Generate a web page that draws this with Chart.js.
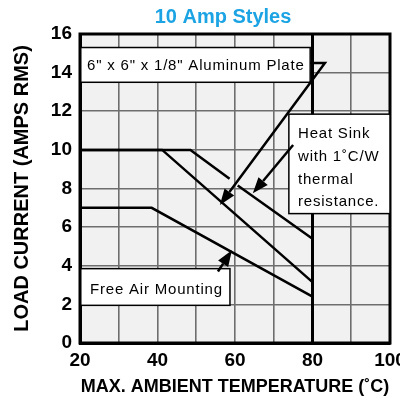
<!DOCTYPE html>
<html>
<head>
<meta charset="utf-8">
<script src="https://cdn.jsdelivr.net/npm/chart.js@4.4.0/dist/chart.umd.min.js"></script>
<style>
  html, body { margin: 0; padding: 0; background: #fff; }
  #wrap { width: 400px; height: 400px; }
</style>
</head>
<body>
<div id="wrap"><canvas id="myChart" width="400" height="400"></canvas></div>
<script>
// curve data (temperature in C, current in A rms)
var heatSinkX = [20, 48.5, 58.6, null, 60.7, 80];
var heatSinkY = [10, 10, 8.5, null, 8.15, 5.4];
var plateX = [20, 41.2, 80];
var plateY = [10, 10, 3.15];
var freeAirX = [20, 38.5, 80];
var freeAirY = [7, 7, 2.4];
var limitX = [80, 80];
var limitY = [0, 16];

var xTicks = [20, 40, 60, 80, 100];
var yTicks = [0, 2, 4, 6, 8, 10, 12, 14, 16];

// callout labels and arrows (data coordinates)
var plateLabel = ['6" x 6" x 1/8" Aluminum Plate'];
var heatSinkLabel = ['Heat Sink', 'with 1˚C/W', 'thermal', 'resistance.'];
var freeAirLabel = ['Free Air Mounting'];
var plateArrow = [[79.4, 14.5], [83.2, 14.5], [56.1, 7.15]];
var heatSinkArrow = [[75, 10.25], [64.6, 7.75]];
var freeAirArrow = [[55.6, 3.7], [59.2, 4.8]];

function toPoints(xs, ys) {
    return xs.map(function (x, i) {
        return x === null ? { x: null, y: null } : { x: x, y: ys[i] };
    });
}

function curve(xs, ys, w) {
    return {
        data: toPoints(xs, ys),
        borderColor: '#000',
        borderWidth: w,
        pointRadius: 0,
        fill: false,
        spanGaps: false,
        tension: 0
    };
}

var boxes = [
    { lines: plateLabel, x0: 20.2, x1: 79.4, y0: 15.3, y1: 13.5, tx: 87, ty: [66] },
    { lines: heatSinkLabel, x0: 73.9, x1: 100, y0: 11.85, y1: 6.7, tx: 298, ty: [134, 157, 180, 202] },
    { lines: freeAirLabel, x0: 20.2, x1: 58.7, y0: 3.85, y1: 1.95, tx: 90, ty: [290] }
];

var calloutPlugin = {
    id: 'callouts',
    beforeDraw: function (chart) {
        var ctx = chart.ctx, a = chart.chartArea;
        ctx.save();
        ctx.fillStyle = '#f0f1f0';
        ctx.fillRect(a.left, a.top, a.right - a.left, a.bottom - a.top);
        ctx.restore();
    },
    afterDatasetsDraw: function (chart) {
        var ctx = chart.ctx, xs = chart.scales.x, ys = chart.scales.y, a = chart.chartArea;
        ctx.save();
        // frame
        ctx.strokeStyle = '#000';
        ctx.lineWidth = 3;
        ctx.strokeRect(a.left, a.top, a.right - a.left, a.bottom - a.top);

        // boxes
        ctx.lineWidth = 1.5;
        ctx.font = '15px "Liberation Sans", Arial, sans-serif';
        ctx.letterSpacing = '0.8px';
        ctx.textBaseline = 'middle';
        ctx.textAlign = 'left';
        boxes.forEach(function (b) {
            var l = xs.getPixelForValue(b.x0), r = xs.getPixelForValue(b.x1);
            var t = ys.getPixelForValue(b.y0), btm = ys.getPixelForValue(b.y1);
            ctx.fillStyle = '#fff';
            ctx.fillRect(l, t, r - l, btm - t);
            ctx.strokeRect(l, t, r - l, btm - t);
            ctx.fillStyle = '#000';
            b.lines.forEach(function (s, i) {
                ctx.fillText(s, b.tx, b.ty[i]);
            });
        });
        ctx.letterSpacing = '0px';

        // arrows
        [plateArrow, heatSinkArrow, freeAirArrow].forEach(function (path) {
            var pts = path.map(function (p) {
                return [xs.getPixelForValue(p[0]), ys.getPixelForValue(p[1])];
            });
            var n = pts.length;
            var tip = pts[n - 1], prev = pts[n - 2];
            var ang = Math.atan2(tip[1] - prev[1], tip[0] - prev[0]);
            var len = 16, half = 6;
            var bx = tip[0] - len * Math.cos(ang), by = tip[1] - len * Math.sin(ang);
            ctx.strokeStyle = '#000';
            ctx.lineWidth = 2.5;
            ctx.beginPath();
            ctx.moveTo(pts[0][0], pts[0][1]);
            for (var i = 1; i < n - 1; i++) ctx.lineTo(pts[i][0], pts[i][1]);
            ctx.lineTo(bx, by);
            ctx.stroke();
            ctx.fillStyle = '#000';
            ctx.beginPath();
            ctx.moveTo(tip[0], tip[1]);
            ctx.lineTo(bx + half * Math.sin(ang), by - half * Math.cos(ang));
            ctx.lineTo(bx - half * Math.sin(ang), by + half * Math.cos(ang));
            ctx.closePath();
            ctx.fill();
        });

        // title
        ctx.fillStyle = '#1ba3e3';
        ctx.font = 'bold 20px "Liberation Sans", Arial, sans-serif';
        ctx.textAlign = 'center';
        ctx.fillText('10 Amp Styles', 223, 17);
        ctx.restore();
    }
};

var config = {
    type: 'line',
    data: {
        datasets: [
            curve(heatSinkX, heatSinkY, 2.5),
            curve(plateX, plateY, 2.5),
            curve(freeAirX, freeAirY, 2.5),
            curve(limitX, limitY, 3)
        ]
    },
    options: {
        responsive: false,
        animation: false,
        layout: { padding: { top: 34, right: 10, left: 0, bottom: 0 } },
        plugins: {
            legend: { display: false },
            tooltip: { enabled: false }
        },
        scales: {
            x: {
                type: 'linear',
                min: 20,
                max: 100,
                afterFit: function (scale) {
                    scale.height = 57;
                    scale.paddingLeft = 0;
                    scale.paddingRight = 0;
                },
                ticks: {
                    stepSize: 10,
                    autoSkip: false,
                    maxRotation: 0,
                    padding: 6,
                    color: '#000',
                    font: { family: '"Liberation Sans", Arial', size: 19, weight: 'bold' },
                    callback: function (v) { return xTicks.indexOf(v) >= 0 ? v : ''; }
                },
                grid: { color: '#6e6e6e', lineWidth: 1.6, drawTicks: false },
                border: { color: '#000', width: 3 },
                title: {
                    display: true,
                    text: 'MAX. AMBIENT TEMPERATURE (˚C)',
                    color: '#000',
                    font: { family: '"Liberation Sans", Arial', size: 18, weight: 'bold' },
                    padding: { top: 0, bottom: 2 }
                }
            },
            y: {
                min: 0,
                max: 16,
                afterFit: function (scale) {
                    scale.width = 80;
                    scale.paddingTop = 0;
                    scale.paddingBottom = 0;
                },
                afterBuildTicks: function (scale) {
                    scale.ticks = yTicks.map(function (v) { return { value: v }; });
                },
                ticks: {
                    padding: 8,
                    color: '#000',
                    font: { family: '"Liberation Sans", Arial', size: 19, weight: 'bold' }
                },
                grid: { color: '#6e6e6e', lineWidth: 1.6, drawTicks: false },
                border: { color: '#000', width: 3 },
                title: {
                    display: true,
                    text: 'LOAD CURRENT (AMPS RMS)',
                    color: '#000',
                    font: { family: '"Liberation Sans", Arial', size: 20, weight: 'bold' },
                    padding: { top: 10, bottom: 0 }
                }
            }
        }
    },
    plugins: [calloutPlugin]
};

var ctx = document.getElementById('myChart').getContext('2d');
var myChart = new Chart(ctx, config);
</script>
</body>
</html>
